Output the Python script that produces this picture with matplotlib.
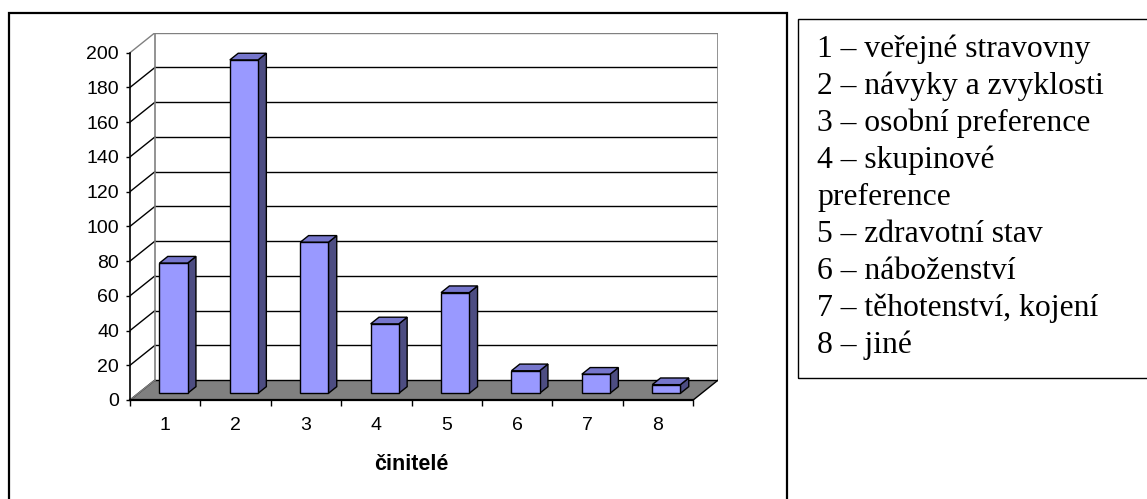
import matplotlib
matplotlib.use("Agg")
import matplotlib.pyplot as plt
from matplotlib.patches import Polygon, Rectangle
import numpy as np

# ---- data ----
categories = ["1", "2", "3", "4", "5", "6", "7", "8"]
counts = [75, 192, 87, 40, 58, 13, 11, 5]
y_ticks = [0, 20, 40, 60, 80, 100, 120, 140, 160, 180, 200]
x_title = "činitelé"
legend_lines = [
    "1 – veřejné stravovny",
    "2 – návyky a zvyklosti",
    "3 – osobní preference",
    "4 – skupinové",
    "preference",
    "5 – zdravotní stav",
    "6 – náboženství",
    "7 – těhotenství, kojení",
    "8 – jiné",
]

# ---- layout (pixels) ----
W, H = 1147, 499
PX_CAT = 70.4        # pixels per category
PX_VAL = 1.7365      # pixels per value unit
DEPTH_PX = (25, 20)  # oblique depth offset
X0, Y0 = 130, 400    # front axis origin (from top-left)
DX = DEPTH_PX[0] / PX_CAT
DY = DEPTH_PX[1] / PX_VAL
YMAX = 200
D0, D1 = 1 / 3, 2 / 3   # bar depth range
BW = 0.4

fig = plt.figure(figsize=(W / 100, H / 100), dpi=100)
n = len(categories)
ax_w = (n + DX) * PX_CAT
ax_h = (YMAX + DY) * PX_VAL
ax = fig.add_axes([X0 / W, (H - Y0) / H, ax_w / W, ax_h / H])
ax.set_xlim(0.5, n + 0.5 + DX)
ax.set_ylim(0, YMAX + DY)
ax.patch.set_alpha(0)

xl, xr = 0.5, n + 0.5
grey = "#808080"

# floor
ax.add_patch(Polygon([(xl, 0), (xr, 0), (xr + DX, DY), (xl + DX, DY)],
                     closed=True, facecolor=grey, edgecolor="none", zorder=1))
ax.plot([xr, xr + DX], [0, DY], color="black", lw=1.0, zorder=2)
ax.plot([xl, xl + DX], [0, DY], color=grey, lw=1.0, zorder=2)

# back wall gridlines and side wall lines
for v in y_ticks:
    c = grey if v == YMAX else "black"
    ax.plot([xl + DX, xr + DX], [v + DY, v + DY], color=c, lw=1.0, zorder=1.5)
    ax.plot([xl, xl + DX], [v, v + DY], color=c, lw=1.0, zorder=1.5)
ax.plot([xl + DX, xl + DX], [DY, YMAX + DY], color=grey, lw=1.2, zorder=1.6)
ax.plot([xr + DX, xr + DX], [DY, YMAX + DY], color=grey, lw=1.2, zorder=1.6)

# bars
xs = np.arange(1, n + 1)
front_x = xs + D0 * DX
ax.bar(front_x, counts, width=BW, bottom=D0 * DY, color="#9999FF",
       edgecolor="black", linewidth=1.0, zorder=5)
ddx = (D1 - D0) * DX
ddy = (D1 - D0) * DY
for fx, v in zip(front_x, counts):
    l, r = fx - BW / 2, fx + BW / 2
    b, t = D0 * DY, D0 * DY + v
    side = Polygon([(r, b), (r + ddx, b + ddy), (r + ddx, t + ddy), (r, t)],
                   closed=True, facecolor="#4D4D82", edgecolor="black", lw=1.0, zorder=4)
    top = Polygon([(l, t), (r, t), (r + ddx, t + ddy), (l + ddx, t + ddy)],
                  closed=True, facecolor="#7676CC", edgecolor="black", lw=1.0, zorder=4)
    ax.add_patch(side)
    ax.add_patch(top)

# axes
for s in ("top", "right"):
    ax.spines[s].set_visible(False)
ax.spines["left"].set_bounds(0, YMAX)
ax.spines["bottom"].set_bounds(xl, xr)
ax.spines["left"].set_linewidth(1.2)
ax.spines["bottom"].set_linewidth(1.6)
ax.spines["left"].set_zorder(6)
ax.spines["bottom"].set_zorder(6)

tick_font = dict(family="Liberation Sans", size=14)
ax.set_yticks(y_ticks)
ax.set_yticklabels([str(v) for v in y_ticks], **tick_font)
ax.tick_params(axis="y", direction="out", length=3, width=1.0, pad=5)

ax.set_xticks(np.arange(0.5, n + 1.0, 1.0))
ax.set_xticklabels([])
ax.tick_params(axis="x", which="major", direction="out", length=4, width=1.0)
ax.set_xticks(xs, minor=True)
ax.set_xticklabels(categories, minor=True, **tick_font)
ax.tick_params(axis="x", which="minor", length=0, pad=12)

ax.set_xlabel(x_title, family="Liberation Sans", size=15.5, fontweight="bold",
              va="center")
ax.xaxis.set_label_coords((n / 2) / (n + DX), -(465 - Y0) / ax_h)

# outer frame of chart
fig.add_artist(Rectangle((9 / W, -0.05), (787 - 9) / W, (H - 13) / H + 0.05,
                         transform=fig.transFigure, fill=False,
                         edgecolor="black", lw=1.6))
# legend box
fig.add_artist(Rectangle((798 / W, (H - 378) / H), (1160 - 798) / W, (378 - 19) / H,
                         transform=fig.transFigure, fill=False,
                         edgecolor="black", lw=1.0))
for i, line in enumerate(legend_lines):
    fig.text(817 / W, 1 - (57 + 37 * i) / H, line, family="Liberation Serif",
             size=22.8, va="baseline", ha="left", color="black")

fig.savefig("out.png", dpi=100)
